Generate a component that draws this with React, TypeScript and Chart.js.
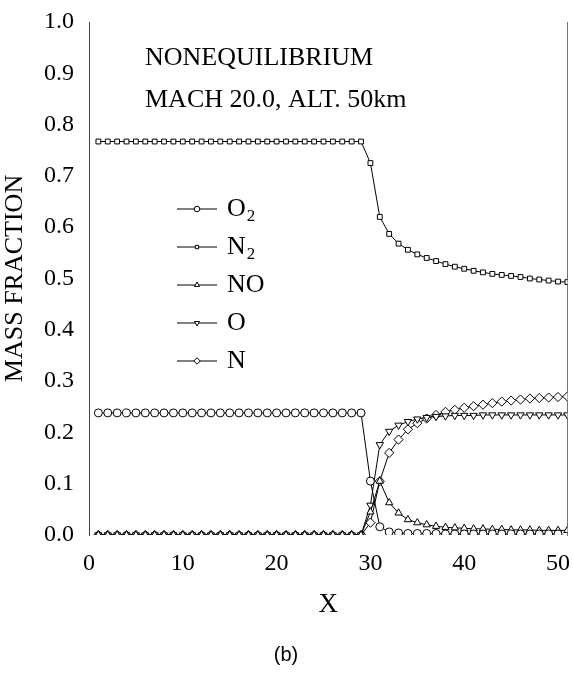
import { useEffect, useRef } from "react";
import { Chart, registerables } from "chart.js";
import { drawPoint } from "chart.js/helpers";

Chart.register(...registerables);

// Grid stations along the body
const xValues = [
  1, 2, 3, 4, 5, 6, 7, 8, 9, 10, 11, 12, 13, 14, 15, 16, 17, 18, 19, 20,
  21, 22, 23, 24, 25, 26, 27, 28, 29, 30, 31, 32, 33, 34, 35, 36, 37, 38, 39, 40,
  41, 42, 43, 44, 45, 46, 47, 48, 49, 50, 51,
];

// Species mass fractions at each station
const o2Values = [
  0.238, 0.238, 0.238, 0.238, 0.238, 0.238, 0.238, 0.238, 0.238, 0.238,
  0.238, 0.238, 0.238, 0.238, 0.238, 0.238, 0.238, 0.238, 0.238, 0.238,
  0.238, 0.238, 0.238, 0.238, 0.238, 0.238, 0.238, 0.238, 0.238,
  0.105, 0.016, 0.006, 0.004, 0.003, 0.003, 0.003, 0.003, 0.002, 0.002,
  0.002, 0.002, 0.002, 0.002, 0.002, 0.002, 0.002, 0.002, 0.002, 0.002, 0.002,
];
const n2Values = [
  0.767, 0.767, 0.767, 0.767, 0.767, 0.767, 0.767, 0.767, 0.767, 0.767,
  0.767, 0.767, 0.767, 0.767, 0.767, 0.767, 0.767, 0.767, 0.767, 0.767,
  0.767, 0.767, 0.767, 0.767, 0.767, 0.767, 0.767, 0.767, 0.767,
  0.725, 0.62, 0.587, 0.568, 0.556, 0.547, 0.54, 0.534, 0.528, 0.523,
  0.519, 0.515, 0.512, 0.509, 0.507, 0.505, 0.503, 0.5, 0.498, 0.496, 0.494, 0.493,
];
const noValues = [
  0, 0, 0, 0, 0, 0, 0, 0, 0, 0, 0, 0, 0, 0, 0, 0, 0, 0, 0, 0,
  0, 0, 0, 0, 0, 0, 0, 0, 0,
  0.045, 0.105, 0.063, 0.043, 0.03, 0.024, 0.02, 0.017, 0.015, 0.014,
  0.013, 0.012, 0.012, 0.011, 0.011, 0.01, 0.01, 0.01, 0.009, 0.009, 0.009, 0.009,
];
const oValues = [
  0, 0, 0, 0, 0, 0, 0, 0, 0, 0, 0, 0, 0, 0, 0, 0, 0, 0, 0, 0,
  0, 0, 0, 0, 0, 0, 0, 0, 0,
  0.058, 0.176, 0.202, 0.214, 0.221, 0.226, 0.229, 0.231, 0.232, 0.233,
  0.233, 0.233, 0.234, 0.234, 0.234, 0.234, 0.234, 0.234, 0.234, 0.234, 0.234, 0.234,
];
const nValues = [
  0, 0, 0, 0, 0, 0, 0, 0, 0, 0, 0, 0, 0, 0, 0, 0, 0, 0, 0, 0,
  0, 0, 0, 0, 0, 0, 0, 0, 0,
  0.024, 0.105, 0.16, 0.186, 0.206, 0.218, 0.227, 0.234, 0.24, 0.244,
  0.248, 0.251, 0.254, 0.257, 0.26, 0.262, 0.264, 0.266, 0.267, 0.268, 0.269, 0.27,
];

const seriesLabels = ["O2", "N2", "NO", "O", "N"];
const xTickValues = [0, 10, 20, 30, 40, 50];
const titleLines = ["NONEQUILIBRIUM", "MACH 20.0, ALT. 50km"];

const SERIF = '"Liberation Serif", "Times New Roman", serif';

type Marker = { pointStyle: string; radius: number; rotation: number };
const markers: Marker[] = [
  { pointStyle: "circle", radius: 4, rotation: 0 },
  { pointStyle: "rect", radius: 3.4, rotation: 0 },
  { pointStyle: "triangle", radius: 4.2, rotation: 0 },
  { pointStyle: "triangle", radius: 4.2, rotation: 180 },
  { pointStyle: "rectRot", radius: 4.6, rotation: 0 },
];

function drawLabel(ctx: CanvasRenderingContext2D, text: string, x: number, y: number) {
  const m = text.match(/^(.*?)(\d+)$/);
  ctx.font = `26px ${SERIF}`;
  if (!m) {
    ctx.fillText(text, x, y);
    return;
  }
  ctx.fillText(m[1], x, y);
  const w = ctx.measureText(m[1]).width;
  ctx.font = `17px ${SERIF}`;
  ctx.fillText(m[2], x + w + 1, y + 8);
}

const annotationsPlugin = {
  id: "figureAnnotations",
  afterDraw(chart: Chart) {
    const { ctx, chartArea } = chart;
    const { left, top } = chartArea;
    ctx.save();
    ctx.fillStyle = "#000";
    ctx.textAlign = "left";
    ctx.textBaseline = "middle";

    ctx.font = `26px ${SERIF}`;
    titleLines.forEach((t, i) => {
      ctx.fillText(t, left + 56, top + 36 + i * 42);
    });

    // species key
    seriesLabels.forEach((label, i) => {
      const y = top + 187 + i * 38;
      ctx.strokeStyle = "#000";
      ctx.lineWidth = 1;
      ctx.beginPath();
      ctx.moveTo(left + 88, y);
      ctx.lineTo(left + 128, y);
      ctx.stroke();
      const mk = markers[i];
      ctx.fillStyle = "#fff";
      drawPoint(ctx, { pointStyle: mk.pointStyle as any, radius: mk.radius * 0.7, rotation: mk.rotation, borderWidth: 1 }, left + 108, y);
      ctx.fillStyle = "#000";
      drawLabel(ctx, label, left + 138, y);
    });

    ctx.font = `20px "Liberation Sans", Arial, sans-serif`;
    ctx.textAlign = "center";
    ctx.fillText("(b)", left + 197, chart.height - 18);
    ctx.restore();
  },
};

export default function App() {
  const canvasRef = useRef<HTMLCanvasElement | null>(null);

  useEffect(() => {
    const canvas = canvasRef.current;
    if (!canvas) return;
    const seriesValues = [o2Values, n2Values, noValues, oValues, nValues];
    const chart = new Chart(canvas, {
      type: "line",
      data: {
        datasets: seriesValues.map((vals, i) => ({
          label: seriesLabels[i],
          data: xValues.map((x, k) => ({ x, y: vals[k] })),
          borderColor: "#000",
          borderWidth: 1,
          backgroundColor: "#fff",
          pointStyle: markers[i].pointStyle as any,
          pointRadius: markers[i].radius,
          pointRotation: markers[i].rotation,
          pointBackgroundColor: "#fff",
          pointBorderColor: "#000",
          pointBorderWidth: 1,
          tension: 0,
          fill: false,
        })),
      },
      options: {
        animation: false,
        responsive: false,
        maintainAspectRatio: false,
        layout: { padding: { top: 22, left: 0, right: 0, bottom: 0 } },
        plugins: {
          legend: { display: false },
          tooltip: { enabled: false },
        },
        scales: {
          x: {
            type: "linear",
            min: 0,
            max: 51,
            afterBuildTicks: (scale: any) => {
              scale.ticks = xTickValues.map((v) => ({ value: v }));
            },
            afterFit: (scale: any) => {
              scale.height = 138;
              scale.paddingLeft = 0;
              scale.paddingRight = 0;
            },
            grid: { display: false },
            border: { display: false },
            ticks: {
              color: "#000",
              font: { family: SERIF, size: 24 },
              padding: 6,
              maxRotation: 0,
            },
            title: {
              display: true,
              text: "X",
              color: "#000",
              font: { family: SERIF, size: 27 },
              padding: { top: 0, bottom: 52 },
            },
          },
          y: {
            type: "linear",
            min: 0,
            max: 1,
            afterFit: (scale: any) => {
              scale.width = 89;
            },
            grid: { display: false },
            border: { display: true, color: "#444", width: 1, dash: [4, 4] },
            ticks: {
              stepSize: 0.1,
              color: "#000",
              font: { family: SERIF, size: 24 },
              padding: 7,
              callback: (v: any) => Number(v).toFixed(1),
            },
            title: {
              display: true,
              text: "MASS FRACTION",
              color: "#000",
              font: { family: SERIF, size: 26 },
              padding: { top: 0, bottom: 0 },
            },
          },
          y2: {
            type: "linear",
            position: "right",
            min: 0,
            max: 1,
            afterFit: (scale: any) => {
              scale.width = 3;
            },
            grid: { display: false },
            border: { display: true, color: "#777", width: 1, dash: [2, 9] },
            ticks: { display: false },
          },
        },
      },
      plugins: [annotationsPlugin],
    });
    return () => chart.destroy();
  }, []);

  return (
    <div style={{ position: "fixed", left: 0, top: 0, width: 573, height: 673, background: "#fff" }}>
      <canvas ref={canvasRef} width={573} height={673} />
    </div>
  );
}
